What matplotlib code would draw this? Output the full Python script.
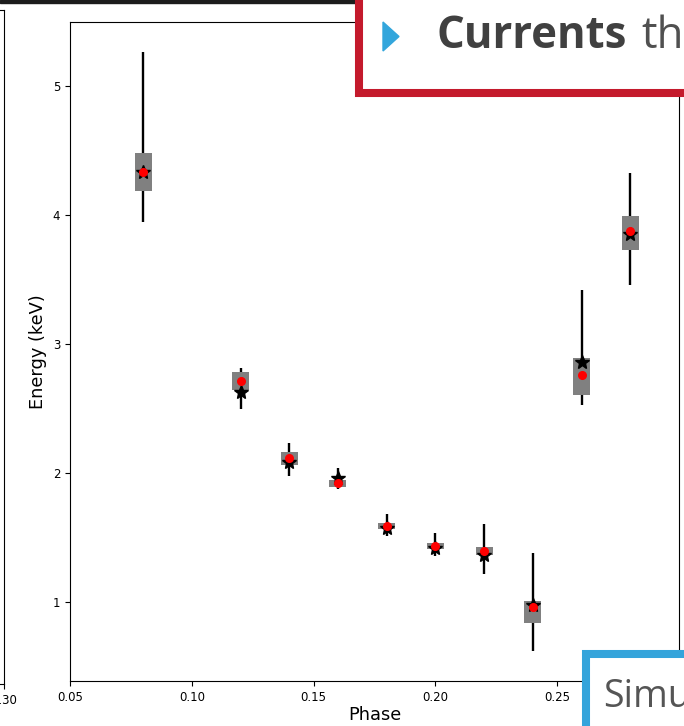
import matplotlib
matplotlib.use('Agg')
import matplotlib.pyplot as plt
from matplotlib.patches import Rectangle, Polygon

# phase bins and energy summary per bin
phase = [0.08, 0.12, 0.14, 0.16, 0.18, 0.20, 0.22, 0.24, 0.26, 0.28]
whisk_lo = [3.946, 2.50, 1.977, 1.874, 1.51, 1.36, 1.22, 0.622, 2.527, 3.457]
whisk_hi = [5.264, 2.816, 2.235, 2.04, 1.68, 1.54, 1.61, 1.385, 3.419, 4.328]
box_lo = [4.186, 2.643, 2.062, 1.89, 1.564, 1.41, 1.364, 0.843, 2.605, 3.729]
box_hi = [4.48, 2.785, 2.165, 1.95, 1.615, 1.46, 1.43, 1.008, 2.889, 3.995]
mean_e = [4.33, 2.713, 2.114, 1.92, 1.59, 1.434, 1.40, 0.96, 2.76, 3.876]
model_e = [4.33, 2.63, 2.09, 1.959, 1.576, 1.42, 1.364, 0.977, 2.86, 3.853]
xticks = [0.05, 0.10, 0.15, 0.20, 0.25]

W, H = 684, 726
fig = plt.figure(figsize=(W / 100, H / 100), dpi=100)


def fx(px):
    return px / W


def fy(py):
    return 1 - py / H


# neighbouring panel, only its right edge shows
ax0 = fig.add_axes([-0.6, fy(684), 0.6 + fx(4), fy(10) - fy(684)])
ax0.set_xlim(0.05, 0.30)
ax0.set_xticks([0.30])
ax0.set_xticklabels(['0.30'])
ax0.tick_params(labelsize=8.5)
ax0.set_yticks([])

ax = fig.add_axes([fx(70), fy(681), fx(679) - fx(70), fy(22) - fy(681)])
heights = [h - l for l, h in zip(box_lo, box_hi)]
ax.vlines(phase, whisk_lo, whisk_hi, color='black', lw=1.7, zorder=2)
ax.bar(phase, heights, bottom=box_lo, width=0.007, color='gray', zorder=3)
ax.plot(phase, model_e, '*', color='black', ms=10.5, zorder=4)
ax.plot(phase, mean_e, 'o', color='red', ms=5.5, zorder=5)
ax.set_xlim(0.05, 0.30)
ax.set_ylim(0.39, 5.495)
ax.set_xticks(xticks)
ax.set_yticks([1, 2, 3, 4, 5])
ax.tick_params(labelsize=8.5)
ax.set_xlabel('Phase', fontsize=12.8, labelpad=2)
ax.set_ylabel('Energy (keV)', fontsize=12.8)

# slide overlays
fig.add_artist(Rectangle((0, fy(3)), fx(356), fy(0) - fy(3), transform=fig.transFigure,
                         color='#1c1c1c', zorder=10))
fig.add_artist(Rectangle((fx(359.5), fy(93)), fx(740) - fx(359.5), fy(-20) - fy(93),
                         transform=fig.transFigure, facecolor='white', edgecolor='#c41a2c',
                         lw=5.8, zorder=10, clip_on=False))
fig.add_artist(Polygon([(fx(383), fy(22)), (fx(383), fy(51)), (fx(399), fy(36.5))],
                       closed=True, transform=fig.transFigure, color='#33a6dc', zorder=11))
fig.text(fx(437), fy(48), 'Currents', fontsize=31.5, fontweight='bold', family='Open Sans',
         color='#404040', va='baseline', zorder=11)
fig.text(fx(641), fy(48), 'th', fontsize=31.5, family='Open Sans',
         color='#505050', va='baseline', zorder=11)

fig.add_artist(Rectangle((fx(586), fy(760)), fx(760) - fx(586), fy(654) - fy(760),
                         transform=fig.transFigure, facecolor='white', edgecolor='#34a4db',
                         lw=5.8, zorder=10, clip_on=False))
fig.text(fx(603), fy(707), 'Simu', fontsize=27, family='Open Sans',
         color='#555555', va='baseline', zorder=11)

fig.savefig('out.png', dpi=100)
